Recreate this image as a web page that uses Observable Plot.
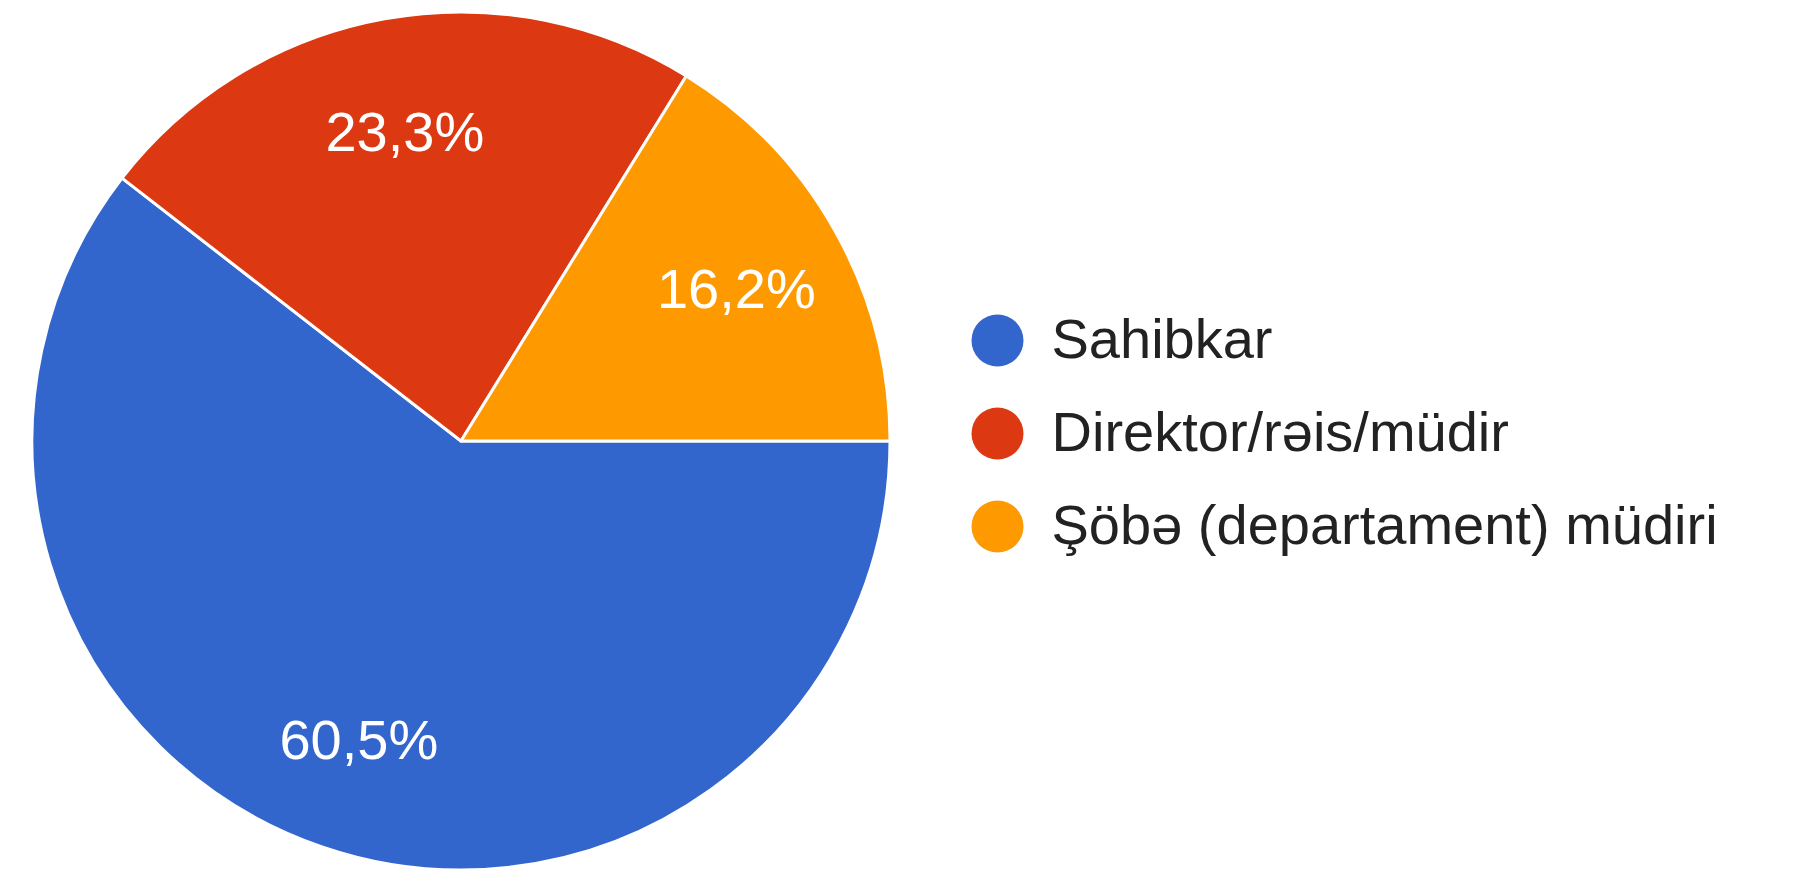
<!DOCTYPE html>
<html>
<head>
<meta charset="utf-8">
<script src="https://cdn.jsdelivr.net/npm/d3@7"></script>
<script src="https://cdn.jsdelivr.net/npm/@observablehq/plot@0.6"></script>
<style>
  html, body { margin: 0; padding: 0; background: #fff; }
  #chart svg { display: block; }
</style>
</head>
<body>
<div id="chart"></div>
<script>
// ---- data ----
const categories = ["Sahibkar", "Direktor/rəis/müdir", "Şöbə (departament) müdiri"];
const percents = [60.5, 23.3, 16.2];
const colors = ["#3366cc", "#dc3912", "#ff9900"];

const data = categories.map((c, i) => ({category: c, value: percents[i]}));

// ---- layout ----
const W = 1795, H = 872;
const cx = 461, cy = 441, R = 429;
const legendDotX = 997, legendTextX = 1051;
const FONT = "'Liberation Sans', Arial, Helvetica, sans-serif";

const fmt = v => v.toFixed(1).replace(".", ",") + "%";

function pieMark(index, scales, values, dimensions, context) {
  const g = d3.create("svg:g");
  const pie = d3.pie()
    .value(d => d.value)
    .sort(null)
    .startAngle(Math.PI / 2)
    .endAngle(Math.PI / 2 + 2 * Math.PI);
  const arcs = pie(data);
  const arc = d3.arc().innerRadius(0).outerRadius(R);
  const labelArc = d3.arc().innerRadius(R * 0.735).outerRadius(R * 0.735);
  g.attr("transform", `translate(${cx},${cy})`);
  g.selectAll("path")
    .data(arcs)
    .join("path")
    .attr("d", arc)
    .attr("fill", d => scales.color(d.data.category))
    .attr("stroke", "#fff")
    .attr("stroke-width", 3)
    .attr("stroke-linejoin", "round");
  g.selectAll("text")
    .data(arcs)
    .join("text")
    .attr("transform", d => `translate(${labelArc.centroid(d)})`)
    .attr("text-anchor", "middle")
    .attr("dy", "0.36em")
    .attr("fill", "#fff")
    .attr("font-family", FONT)
    .attr("font-size", 56)
    .text(d => fmt(d.data.value));
  return g.node();
}

const plot = Plot.plot({
  width: W,
  height: H,
  margin: 0,
  style: {background: "#fff", fontFamily: FONT},
  x: {type: "identity", axis: null},
  y: {type: "point", domain: categories, range: [339, 526], padding: 0, axis: null},
  color: {domain: categories, range: colors},
  marks: [
    pieMark,
    Plot.dot(categories, {x: legendDotX, y: d => d, fill: d => d, r: 26}),
    Plot.text(categories, {
      x: legendTextX, y: d => d, text: d => d,
      textAnchor: "start", lineAnchor: "middle",
      fontSize: 56, fill: "#222"
    })
  ]
});

document.getElementById("chart").appendChild(plot);
</script>
</body>
</html>
